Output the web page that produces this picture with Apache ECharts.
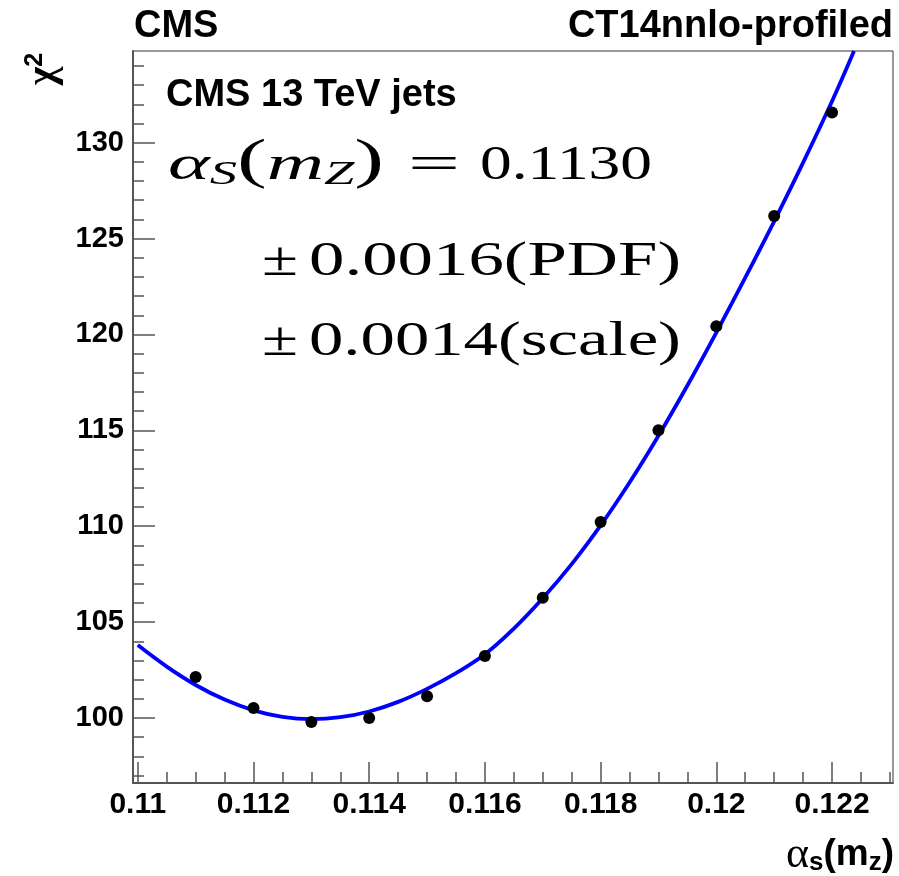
<!DOCTYPE html>
<html>
<head>
<meta charset="utf-8">
<script src="https://cdn.jsdelivr.net/npm/echarts@6/dist/echarts.min.js"></script>
<style>
html,body{margin:0;padding:0;background:#fff;}
#chart{width:899px;height:876px;}
</style>
</head>
<body>
<div id="chart"></div>
<script>
// ---- data ----
const pointsAlpha = [0.111, 0.112, 0.113, 0.114, 0.115, 0.116, 0.117, 0.118, 0.119, 0.120, 0.121, 0.122];
const pointsChi2  = [102.14, 100.52, 99.79, 100.0, 101.13, 103.23, 106.27, 110.22, 115.0, 120.43, 126.17, 131.57];

const curveAlpha = [0.1100, 0.1105, 0.1110, 0.1115, 0.1120, 0.1125, 0.1130, 0.1135, 0.1140, 0.1145, 0.1150, 0.1155, 0.1160, 0.1165, 0.1170, 0.1175, 0.1180, 0.1185, 0.1190, 0.1195, 0.1200, 0.1205, 0.1210, 0.1215, 0.1220, 0.12238];
const curveChi2  = [103.80, 102.68, 101.72, 100.96, 100.40, 100.06, 99.94, 100.04, 100.34, 100.84, 101.52, 102.34, 103.32, 104.66, 106.24, 108.02, 110.04, 112.28, 114.72, 117.34, 120.10, 122.96, 125.90, 128.96, 132.16, 134.78];

const xMajorTicks = [0.110, 0.112, 0.114, 0.116, 0.118, 0.120, 0.122];
const xMinorTicks = [0.1100, 0.1105, 0.1110, 0.1115, 0.1120, 0.1125, 0.1130, 0.1135, 0.1140, 0.1145, 0.1150, 0.1155, 0.1160, 0.1165, 0.1170, 0.1175, 0.1180, 0.1185, 0.1190, 0.1195, 0.1200, 0.1205, 0.1210, 0.1215, 0.1220, 0.1225, 0.1230];
const yMajorTicks = [100, 105, 110, 115, 120, 125, 130];
const yMinorTicks = [97, 98, 99, 100, 101, 102, 103, 104, 105, 106, 107, 108, 109, 110, 111, 112, 113, 114, 115, 116, 117, 118, 119, 120, 121, 122, 123, 124, 125, 126, 127, 128, 129, 130, 131, 132, 133, 134];

const xRange = [0.109917, 0.123054];
const yRange = [96.61, 134.78];

const titleLeft = 'CMS';
const titleRight = 'CT14nnlo-profiled';
const datasetLabel = 'CMS 13 TeV jets';
const resultValue = '0.1130';
const pdfValue = '0.0016(PDF)';
const scaleValue = '0.0014(scale)';

// ---- layout helpers ----
const SANS = '"Liberation Sans", Arial, sans-serif';
const SERIF = '"Liberation Serif", "Times New Roman", serif';
const cv = document.createElement('canvas').getContext('2d');
function measure(font, s) { cv.font = font; return cv.measureText(s).width; }

const mainFont = '48px ' + SERIF;
const italFont = 'italic 48px ' + SERIF;
const parenFont = '54px ' + SERIF;
const subFont = 'italic 33px ' + SERIF;

// plain serif text piece stretched to a target advance width
function mathPiece(x, y, str, targetW) {
  const s = targetW / measure(mainFont, str);
  return {type: 'text', x: x, y: y, scaleX: s, scaleY: 1,
    style: {text: str, font: mainFont, fill: '#000', textAlign: 'left', textVerticalAlign: 'middle'}};
}

const lhsParts = [[italFont, '\u03b1'], [subFont, 'S'], [parenFont, '('], [italFont, 'm'], [subFont, 'Z'], [parenFont, ')']];
const lhsW = lhsParts.reduce((s, p) => s + measure(p[0], p[1]), 0);
const lhsScale = 216 / lhsW;

const chart = echarts.init(document.getElementById('chart'), null, {renderer: 'canvas'});

const fmt = v => String(+(+v).toFixed(4));
const axisColor = '#555';

const option = {
  backgroundColor: '#fff',
  animation: false,
  grid: {left: 133, right: 6, top: 51, bottom: 93, show: true, borderColor: '#333', borderWidth: 1, containLabel: false},
  xAxis: [
    {
      type: 'value', min: xRange[0], max: xRange[1], position: 'bottom',
      axisLine: {show: true, lineStyle: {color: axisColor, width: 2}},
      axisTick: {show: true, inside: true, length: 21, customValues: xMajorTicks, lineStyle: {color: axisColor, width: 1.5}},
      axisLabel: {show: true, customValues: xMajorTicks, formatter: fmt, margin: 7, color: '#000', fontFamily: SANS, fontWeight: 'bold', fontSize: 30},
      splitLine: {show: false}
    },
    {
      type: 'value', min: xRange[0], max: xRange[1], position: 'bottom',
      axisLine: {show: false},
      axisTick: {show: true, inside: true, length: 11, customValues: xMinorTicks, lineStyle: {color: axisColor, width: 1.5}},
      axisLabel: {show: false},
      splitLine: {show: false}
    }
  ],
  yAxis: [
    {
      type: 'value', min: yRange[0], max: yRange[1], position: 'left',
      axisLine: {show: true, lineStyle: {color: axisColor, width: 2}},
      axisTick: {show: true, inside: true, length: 22, customValues: yMajorTicks, lineStyle: {color: axisColor, width: 1.5}},
      axisLabel: {show: true, customValues: yMajorTicks, margin: 9, color: '#000', fontFamily: SANS, fontWeight: 'bold', fontSize: 29},
      splitLine: {show: false}
    },
    {
      type: 'value', min: yRange[0], max: yRange[1], position: 'left',
      axisLine: {show: false},
      axisTick: {show: true, inside: true, length: 11, customValues: yMinorTicks, lineStyle: {color: axisColor, width: 1.5}},
      axisLabel: {show: false},
      splitLine: {show: false}
    }
  ],
  series: [
    {
      type: 'line', xAxisIndex: 0, yAxisIndex: 0,
      data: curveAlpha.map((a, i) => [a, curveChi2[i]]),
      showSymbol: false, smooth: 0.4, clip: true,
      lineStyle: {color: '#0000ff', width: 3.8}, z: 2
    },
    {
      type: 'scatter', xAxisIndex: 0, yAxisIndex: 0,
      data: pointsAlpha.map((a, i) => [a, pointsChi2[i]]),
      symbol: 'circle', symbolSize: 12,
      itemStyle: {color: '#000', opacity: 1}, z: 3
    }
  ],
  graphic: [
    {type: 'text', x: 134, y: 27, style: {text: titleLeft, font: 'bold 38px ' + SANS, fill: '#000', textAlign: 'left', textVerticalAlign: 'middle'}},
    {type: 'text', x: 893, y: 27, style: {text: titleRight, font: 'bold 38px ' + SANS, fill: '#000', textAlign: 'right', textVerticalAlign: 'middle'}},
    {type: 'text', x: 166, y: 96, style: {text: datasetLabel, font: 'bold 38px ' + SANS, fill: '#000', textAlign: 'left', textVerticalAlign: 'middle'}},
    {type: 'text', x: 168, y: 166, scaleX: lhsScale, scaleY: 1,
      style: {
        text: '{a|\u03b1}{s|S}{p|(}{a|m}{s|Z}{p|)}',
        textAlign: 'left', textVerticalAlign: 'middle', fill: '#000',
        rich: {
          a: {font: italFont, fill: '#000'},
          p: {font: parenFont, fill: '#000', padding: [0, 0, 6, 0]},
          s: {font: subFont, fill: '#000', padding: [18, 0, 0, 0]}
        }
      }
    },
    mathPiece(408, 166, '=', 52),
    mathPiece(480, 166, resultValue, 172),
    mathPiece(262, 262, '\u00b1', 36),
    mathPiece(309, 262, pdfValue, 372),
    mathPiece(262, 342, '\u00b1', 36),
    mathPiece(309, 342, scaleValue, 372),
    {type: 'text', x: 44, y: 69, rotation: Math.PI / 2,
      style: {
        text: '{c|\u03c7}{p|2}', textAlign: 'center', textVerticalAlign: 'middle', fill: '#000',
        rich: {
          c: {font: 'bold 40px ' + SERIF, fill: '#000'},
          p: {font: 'bold 25px ' + SANS, fill: '#000', padding: [0, 0, 18, 0]}
        }
      }
    },
    {type: 'text', x: 894, y: 855,
      style: {
        text: '{g|\u03b1}{s|s}{b|(m}{s|z}{b|)}', textAlign: 'right', textVerticalAlign: 'middle', fill: '#000',
        rich: {
          g: {font: '44px ' + SERIF, fill: '#000'},
          b: {font: 'bold 37px ' + SANS, fill: '#000'},
          s: {font: 'bold 26px ' + SANS, fill: '#000', padding: [15, 0, 0, 0]}
        }
      }
    }
  ]
};
chart.setOption(option);
</script>
</body>
</html>
